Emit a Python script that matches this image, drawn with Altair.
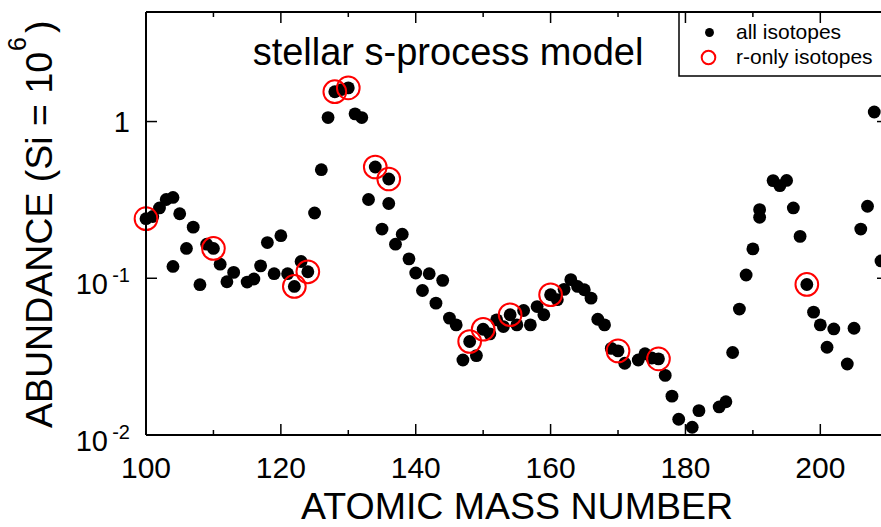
import altair as alt
import pandas as pd

# ---- data ----
mass_all = [100, 101, 102, 103, 104, 104, 105, 106, 107, 108,
            109, 110, 111, 112, 113, 115, 116, 117, 118, 119,
            120, 121, 122, 123, 124, 125, 126, 127, 128, 129,
            130, 131, 132, 133, 134, 135, 136, 136, 137, 138,
            139, 140, 141, 142, 143, 144, 145, 146, 147, 148,
            149, 150, 151, 152, 153, 154, 155, 156, 157, 158,
            159, 160, 161, 162, 163, 164, 165, 166, 167, 168,
            169, 170, 171, 173, 174, 175, 176, 177, 178, 179,
            181, 182, 185, 186, 187, 188, 189, 190, 191, 191,
            193, 194, 195, 196, 197, 198, 199, 200, 201, 202,
            204, 205, 206, 207, 208, 209]
abund_all = [0.24, 0.248, 0.281, 0.318, 0.328, 0.119, 0.258, 0.155, 0.212, 0.091,
             0.165, 0.155, 0.123, 0.095, 0.109, 0.0946, 0.099, 0.12, 0.169, 0.107,
             0.187, 0.107, 0.0887, 0.128, 0.110, 0.261, 0.493, 1.06, 1.55, 1.60,
             1.64, 1.12, 1.06, 0.318, 0.513, 0.206, 0.43, 0.30, 0.165, 0.191,
             0.133, 0.108, 0.0835, 0.107, 0.0694, 0.097, 0.0557, 0.0504, 0.0301, 0.0395,
             0.0321, 0.0473, 0.0442, 0.0543, 0.0492, 0.0585, 0.0504, 0.0623, 0.0504, 0.066,
             0.0585, 0.0785, 0.073, 0.085, 0.098, 0.0887, 0.0845, 0.0747, 0.0548, 0.0504,
             0.0357, 0.0344, 0.0287, 0.0301, 0.033, 0.031, 0.0306, 0.0240, 0.0177, 0.0126,
             0.0112, 0.0143, 0.0151, 0.0163, 0.0336, 0.0636, 0.105, 0.154, 0.274, 0.245,
             0.42, 0.39, 0.421, 0.281, 0.185, 0.0913, 0.0608, 0.0504, 0.0363, 0.0475,
             0.0284, 0.048, 0.206, 0.288, 1.15, 0.129]
mass_r = [100, 110, 122, 124, 128, 130, 134, 136, 148, 150, 154, 160, 170, 176, 198]
abund_r = [0.24, 0.155, 0.0887, 0.110, 1.55, 1.64, 0.513, 0.43, 0.0395, 0.0473,
           0.0585, 0.0785, 0.0344, 0.0306, 0.0913]

series_names = ["all isotopes", "r-only isotopes"]
x_major = [100, 120, 140, 160, 180, 200]
x_minor = [110, 130, 150, 170, 190]
x_labels = ["100", "120", "140", "160", "180", "200"]
y_major = [1, 0.1, 0.01]
y_base = ["1", "10", "10"]
y_exp = ["", "-1", "-2"]
title_text = "stellar s-process model"
x_title = "ATOMIC MASS NUMBER"
y_title_main = "ABUNDANCE (Si = 10"
y_title_sup = "6"
y_title_end = ")"

FONT = "Liberation Sans"
W, H = 735, 423

df_all = pd.DataFrame({"mass": mass_all, "abund": abund_all, "series": series_names[0]})
df_r = pd.DataFrame({"mass": mass_r, "abund": abund_r, "series": series_names[1]})
df_xmaj = pd.DataFrame({"t": x_major, "lab": x_labels})
df_xmin = pd.DataFrame({"t": x_minor})
df_y = pd.DataFrame({"v": y_major, "base": y_base, "exp": y_exp})
one = pd.DataFrame({"a": [0]})

xs = alt.Scale(domain=[100, 209], nice=False, zero=False)
ys = alt.Scale(type="log", domain=[0.01, 5], nice=False)

X = lambda f: alt.X(f, scale=xs, axis=None)
Y = lambda f: alt.Y(f, scale=ys, axis=None)

dots = alt.Chart(df_all).mark_circle(size=165, opacity=1).encode(
    x=X("mass:Q"),
    y=Y("abund:Q"),
    color=alt.Color("series:N", scale=alt.Scale(domain=[series_names[0]], range=["black"]),
                    legend=alt.Legend(orient="none", legendX=553, legendY=10, title=None,
                                      labelFontSize=21, labelFont=FONT, labelColor="black",
                                      symbolSize=79, symbolType="circle", labelOffset=16,
                                      padding=0, symbolStrokeWidth=0)),
)

rings = alt.Chart(df_r).mark_point(size=515, filled=False, strokeWidth=2, opacity=1).encode(
    x=X("mass:Q"),
    y=Y("abund:Q"),
    stroke=alt.Stroke("series:N", scale=alt.Scale(domain=[series_names[1]], range=["red"]),
                      legend=alt.Legend(orient="none", legendX=552, legendY=35, title=None,
                                        labelFontSize=21, labelFont=FONT, labelColor="black",
                                        symbolSize=185, symbolType="circle", labelOffset=17,
                                        padding=0, symbolStrokeWidth=2,
                                        symbolFillColor="transparent")),
)

rule = dict(color="black", strokeWidth=2)
frame_left = alt.Chart(one).mark_rule(**rule).encode(x=alt.value(0), y=alt.value(0), y2=alt.value(H))
frame_bottom = alt.Chart(one).mark_rule(**rule).encode(x=alt.value(0), x2=alt.value(W + 5), y=alt.value(H))
frame_top = alt.Chart(one).mark_rule(**rule).encode(x=alt.value(0), x2=alt.value(W + 5), y=alt.value(0))

tk = dict(color="black", strokeWidth=1.5)
bt_maj = alt.Chart(df_xmaj).mark_rule(**tk).encode(x=X("t:Q"), y=alt.value(H), y2=alt.value(H - 11))
bt_min = alt.Chart(df_xmin).mark_rule(**tk).encode(x=X("t:Q"), y=alt.value(H), y2=alt.value(H - 5))
tp_maj = alt.Chart(df_xmaj).mark_rule(**tk).encode(x=X("t:Q"), y=alt.value(0), y2=alt.value(11))
tp_min = alt.Chart(df_xmin).mark_rule(**tk).encode(x=X("t:Q"), y=alt.value(0), y2=alt.value(5))
lt_maj = alt.Chart(df_y).mark_rule(**tk).encode(y=Y("v:Q"), x=alt.value(0), x2=alt.value(11))
rt_maj = alt.Chart(df_y).mark_rule(**tk).encode(y=Y("v:Q"), x=alt.value(W - 4), x2=alt.value(W))

xlab = alt.Chart(df_xmaj).mark_text(
    font=FONT, fontSize=30, align="center", baseline="alphabetic", color="black"
).encode(x=X("t:Q"), y=alt.value(466), text="lab:N")

ylab_one = alt.Chart(df_y).transform_filter("datum.exp == ''").mark_text(
    font=FONT, fontSize=29, align="right", baseline="alphabetic", dy=10, color="black"
).encode(y=Y("v:Q"), x=alt.value(-16), text="base:N")
ylab_ten = alt.Chart(df_y).transform_filter("datum.exp != ''").mark_text(
    font=FONT, fontSize=29, align="right", baseline="alphabetic", dy=16, color="black"
).encode(y=Y("v:Q"), x=alt.value(-38), text="base:N")
ylab_exp = alt.Chart(df_y).transform_filter("datum.exp != ''").mark_text(
    font=FONT, fontSize=20, align="right", baseline="alphabetic", dy=4, color="black"
).encode(y=Y("v:Q"), x=alt.value(-16), text="exp:N")

legend_box = alt.Chart(one).mark_rect(fill="white", stroke="black", strokeWidth=1.5).encode(
    x=alt.value(533), x2=alt.value(W + 20), y=alt.value(0), y2=alt.value(64))

title = alt.Chart(one).mark_text(font=FONT, fontSize=38, align="center", baseline="alphabetic",
                                 color="black", text=title_text).encode(
    x=alt.value(302), y=alt.value(53))
xt = alt.Chart(one).mark_text(font=FONT, fontSize=37.5, align="center", baseline="alphabetic",
                              color="black", text=x_title).encode(x=alt.value(371), y=alt.value(507))
yt1 = alt.Chart(one).mark_text(font=FONT, fontSize=37.5, align="left", baseline="alphabetic",
                               angle=270, color="black", text=y_title_main).encode(
    x=alt.value(-94), y=alt.value(416))
yt2 = alt.Chart(one).mark_text(font=FONT, fontSize=25, align="left", baseline="alphabetic",
                               angle=270, color="black", text=y_title_sup).encode(
    x=alt.value(-120), y=alt.value(39))
yt3 = alt.Chart(one).mark_text(font=FONT, fontSize=37.5, align="left", baseline="alphabetic",
                               angle=270, color="black", text=y_title_end).encode(
    x=alt.value(-94), y=alt.value(21))

chart = alt.layer(
    legend_box, dots, rings,
    frame_left, frame_bottom, frame_top,
    bt_maj, bt_min, tp_maj, tp_min, lt_maj, rt_maj,
    xlab, ylab_one, ylab_ten, ylab_exp,
    title, xt, yt1, yt2, yt3,
).resolve_scale(color="independent", stroke="independent").properties(
    width=W, height=H,
    autosize=alt.AutoSizeParams(type="none"),
    padding={"left": 146, "top": 12, "right": 0, "bottom": 92},
    background="white",
).configure_view(stroke="transparent")

chart.save("out.html", embed_options={"renderer": "svg", "actions": False})
